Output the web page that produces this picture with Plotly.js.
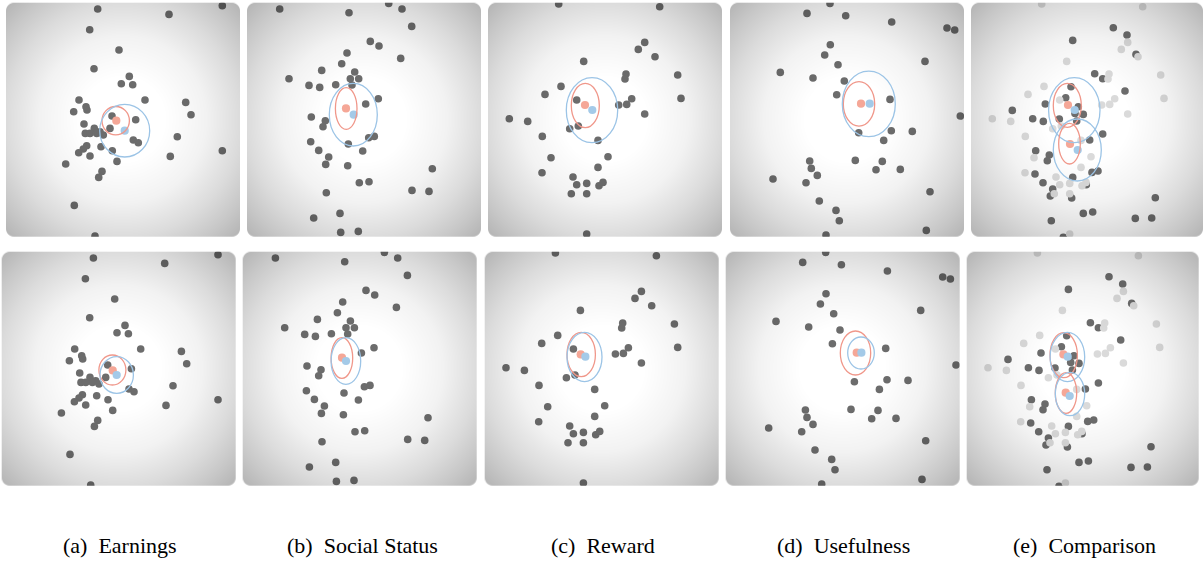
<!DOCTYPE html>
<html><head><meta charset="utf-8">
<script src="https://cdn.plot.ly/plotly-3.0.1.min.js"></script>
<style>html,body{margin:0;padding:0;background:#fff}#chart{width:1203px;height:568px}</style>
</head><body><div id="chart"></div><script>
// ---- data (panel pixel units, x to the right, y downward) ----
const earningsX = [91.7,163,216.3,83.7,113,88,123.3,115.3,126.7,73,139,179.7,80,67.7,81,185,106,129.7,78,104,88.3,94,79.3,84,90.7,97.3,171.3,127.3,132.3,80.7,95,77.3,106.3,72.7,84,216.3,164.3,111,59.7,96,92.7,68.3,89];
const earningsY = [6.3,11.7,3,27,47.3,66,73.7,81,82,97.3,97.3,99.7,104,109,107.3,112,113.3,117,121.3,125.7,125.7,129,130.7,130.7,130.7,132.3,134,137.3,140,143,144,146.3,148,150,153.3,148,153.7,158.7,161.3,168.7,174.7,202.7,233.3];
const socialX = [32.7,102,141.7,155,164.7,123.3,132,100,153.7,94.7,74.7,107.7,42,103.3,111.7,62,72.7,88.7,105,131.3,118.7,64.3,78.3,76,63.7,101.3,121.7,127.3,71.7,115.7,81.7,78.7,100.7,185.3,112.3,122,79.3,165,182,93,66.7,93.7,111.3];
const socialY = [6.3,10,0.7,6.3,23.7,38.7,43.3,50.3,55.7,61,67.7,69.3,76,76,76,82.7,84.7,82,82.3,96,101.3,114.3,118,124,139,141.3,135,133.7,147.7,148.3,154.3,161.7,163,166,180,179,190,187.7,188.7,210.7,215.3,229.7,228.7];
const rewardX = [70.7,171.7,156.7,150.3,167,95.7,138,137,189.7,73,57,193,88.7,143.7,138.7,130.7,156.7,21.3,39.7,90.3,81.7,54.3,110,120,63,110,54,85,88.7,98.7,111,115,83.3,98.7,98.7];
const rewardY = [1.3,4,39.7,46.7,54,58.7,71.3,76.3,72.3,83.7,91.7,95.7,97.3,96,101.7,102.3,111.3,116,118.7,123.3,126,133.7,137.7,154,155,164.7,170,174.3,182,180.7,183,179.7,191,191,231.3];
const usefulX = [100,77,115.7,161.7,217,224.7,100.3,94.7,108,195,50.3,83,114.3,106.7,160,230.3,128.7,161.3,182.3,153.7,79.7,81.3,125.3,152.3,146,170.3,87.3,43,76,200,89.3,106,109.3,96,196.3];
const usefulY = [0.7,10.7,13,19.3,25.3,27.3,42,52.3,62,58.7,69.7,75.3,78.3,92,96.7,113.3,130,128,128.7,137.7,158.3,165.7,157.7,158.7,167,166.7,172.7,176.3,180,189,198.3,207.7,218,232.3,227.7];
const compareX = [142.3,156,101.7,165,123.7,131.7,154,100,94.7,41.3,74.3,61.7,72.3,88.3,107.3,112.3,104,105.7,131.7,118.7,64.7,78.3,76.3,64,101.7,121,127,72,81.7,79.3,100.7,115.3,184.3,112.3,121.7,80.3,164.3,180.7,92.3];
const compareY = [25,32.3,37.7,51.7,71,76,88.3,84,95,107.7,101.3,116,118.7,116.3,104,111.7,110.7,118.3,131.3,137.3,148,152.3,158,171.3,174.7,169.7,168.3,180,186.3,193.3,195.3,182,195,210.7,209.3,218,215.7,215.3,234.7];

// ellipses & means: entries = (a, b, c, d, e-upper, e-lower)
const topRedCX = [109.7,99.2,97.3,129,96.3,98.5];
const topRedCY = [118,105.8,102.8,101.2,102.7,141];
const topRedRX = [13.7,10.8,14,15.7,14,10.8];
const topRedRY = [14.2,20.8,22.2,22.2,22,20.3];
const topBlueCX = [118.7,106.3,104,138.8,103.3,106.3];
const topBlueCY = [128,112,107.5,101.2,107.5,147.3];
const topBlueRX = [25,24,25.7,26.5,25.7,24];
const topBlueRY = [26.3,31.3,32.5,32.8,32.5,31];
const topRedMeanX = [110.3,99,97,131,97,99];
const topRedMeanY = [118,105.7,102.3,101,102.3,141.3];
const topBlueMeanX = [118.7,106.7,104.3,139.7,103.7,106.7];
const topBlueMeanY = [128,112,107.3,101,107.3,147.3];

const botRedCX = [110.7,99.2,96.5,129.8,97,99.3];
const botRedCY = [118.3,106.3,102.8,101.3,103.5,141.3];
const botRedRX = [13.5,10.8,14.2,15.2,13.7,10.7];
const botRedRY = [15,20.3,22.2,22,22.5,20.3];
const botBlueCX = [115,103.2,99.8,135.3,100.7,103.3];
const botBlueCY = [123.3,109.3,105.3,101.3,105.3,142.3];
const botBlueRX = [16.7,14.8,17.5,13.3,17.3,14.7];
const botBlueRY = [18.3,23.3,24.7,16,24.7,21.7];
const botRedMeanX = [111,99.3,96,131,96.7,99];
const botRedMeanY = [118.7,106,102.7,101,102.7,141];
const botBlueMeanX = [115,103.3,100.7,135.7,101,103];
const botBlueMeanY = [123.3,109.3,105,101,105,144.3];

const captions = ["(a)\u00a0\u00a0Earnings","(b)\u00a0\u00a0Social Status","(c)\u00a0\u00a0Reward","(d)\u00a0\u00a0Usefulness","(e)\u00a0\u00a0Comparison"];

// ---- layout geometry ----
const W = 1203, H = 568;
const colLeft = [[6,247,488,730,971],[1.7,242.7,484.7,725.7,966.7]];
const colW = [234,234,234,234,232];
const panelH = 234;
const rowTop = [2.7,251.7];
const captionX = [120,362,603,843,1084];
const captionY = 545;

const DARK = '#6c6c6c', LIGHT = '#dadada';
const RED_LINE = '#f0978a', BLUE_LINE = '#9cc4e6';
const RED_DOT = '#f5a797', BLUE_DOT = '#a4cae8';

function vignette(w, h) {
  const s = 2, cv = document.createElement('canvas');
  cv.width = Math.round(w * s); cv.height = Math.round(h * s);
  const g = cv.getContext('2d'); g.scale(s, s);
  const r = 8;
  g.beginPath();
  g.moveTo(r, 0); g.lineTo(w - r, 0); g.arcTo(w, 0, w, r, r);
  g.lineTo(w, h - r); g.arcTo(w, h, w - r, h, r);
  g.lineTo(r, h); g.arcTo(0, h, 0, h - r, r);
  g.lineTo(0, r); g.arcTo(0, 0, r, 0, r); g.closePath();
  g.clip();
  const cx = w / 2, cy = h / 2, R = Math.hypot(cx, cy);
  const grd = g.createRadialGradient(cx, cy, 0, cx, cy, R);
  grd.addColorStop(0, 'rgba(0,0,0,0)');
  grd.addColorStop(0.25, 'rgba(0,0,0,0)');
  grd.addColorStop(0.5, 'rgba(0,0,0,0.05)');
  grd.addColorStop(0.71, 'rgba(0,0,0,0.14)');
  grd.addColorStop(0.86, 'rgba(0,0,0,0.22)');
  grd.addColorStop(1, 'rgba(0,0,0,0.30)');
  g.fillStyle = grd; g.fillRect(0, 0, w, h);
  return cv.toDataURL('image/png');
}

const layout = {
  width: W, height: H, margin: {l:0, r:0, t:0, b:0},
  paper_bgcolor: '#ffffff', plot_bgcolor: 'rgba(0,0,0,0)',
  showlegend: false, shapes: [], images: [], annotations: []
};
const traces = [];
const pointSets = [[earningsX, earningsY],[socialX, socialY],[rewardX, rewardY],[usefulX, usefulY],[compareX, compareY]];
const ell = [
  {rcx:topRedCX,rcy:topRedCY,rrx:topRedRX,rry:topRedRY,bcx:topBlueCX,bcy:topBlueCY,brx:topBlueRX,bry:topBlueRY,rmx:topRedMeanX,rmy:topRedMeanY,bmx:topBlueMeanX,bmy:topBlueMeanY},
  {rcx:botRedCX,rcy:botRedCY,rrx:botRedRX,rry:botRedRY,bcx:botBlueCX,bcy:botBlueCY,brx:botBlueRX,bry:botBlueRY,rmx:botRedMeanX,rmy:botRedMeanY,bmx:botBlueMeanX,bmy:botBlueMeanY}
];
const ellCol = [0,1,2,3,4,4];
const vigs = colW.map(w => vignette(w, panelH));

for (let r = 0; r < 2; r++) {
  for (let c = 0; c < 5; c++) {
    const idx = r * 5 + c + 1, sfx = idx === 1 ? '' : String(idx);
    const left = colLeft[r][c], top = rowTop[r], w = colW[c];
    layout['xaxis' + sfx] = {domain:[left / W, (left + w) / W], range:[0, w], visible:false, fixedrange:true, anchor:'y' + sfx};
    layout['yaxis' + sfx] = {domain:[1 - (top + panelH) / H, 1 - top / H], range:[panelH, 0], visible:false, fixedrange:true, anchor:'x' + sfx};
    const xa = 'x' + sfx, ya = 'y' + sfx;
    const ps = pointSets[c];
    traces.push({type:'scatter', mode:'markers', x:ps[0], y:ps[1], xaxis:xa, yaxis:ya, hoverinfo:'skip',
      marker:{size:7.6, color:DARK, line:{width:0}}});
    if (c === 4) {
      traces.push({type:'scatter', mode:'markers', x:rewardX, y:rewardY, xaxis:xa, yaxis:ya, hoverinfo:'skip',
        marker:{size:7.6, color:LIGHT, line:{width:0}}});
    }
    layout.images.push({source: vigs[c], xref: xa + ' domain', yref: ya + ' domain', x:0, y:1, sizex:1, sizey:1,
      xanchor:'left', yanchor:'top', sizing:'stretch', layer:'above'});
  }
  const E = ell[r];
  for (let k = 0; k < 6; k++) {
    const c = ellCol[k], idx = r * 5 + c + 1, sfx = idx === 1 ? '' : String(idx);
    const xa = 'x' + sfx, ya = 'y' + sfx;
    layout.shapes.push({type:'circle', xref:xa, yref:ya, x0:E.rcx[k]-E.rrx[k], x1:E.rcx[k]+E.rrx[k], y0:E.rcy[k]-E.rry[k], y1:E.rcy[k]+E.rry[k], line:{color:RED_LINE, width:1.3}, layer:'above'});
    layout.shapes.push({type:'circle', xref:xa, yref:ya, x0:E.bcx[k]-E.brx[k], x1:E.bcx[k]+E.brx[k], y0:E.bcy[k]-E.bry[k], y1:E.bcy[k]+E.bry[k], line:{color:BLUE_LINE, width:1.3}, layer:'above'});
  }
}
// means drawn last
for (let r = 0; r < 2; r++) {
  const E = ell[r];
  for (let k = 0; k < 6; k++) {
    const c = ellCol[k], idx = r * 5 + c + 1, sfx = idx === 1 ? '' : String(idx);
    traces.push({type:'scatter', mode:'markers', x:[E.rmx[k]], y:[E.rmy[k]], xaxis:'x'+sfx, yaxis:'y'+sfx, hoverinfo:'skip', marker:{size:8.2, color:RED_DOT}});
    traces.push({type:'scatter', mode:'markers', x:[E.bmx[k]], y:[E.bmy[k]], xaxis:'x'+sfx, yaxis:'y'+sfx, hoverinfo:'skip', marker:{size:8.2, color:BLUE_DOT}});
  }
}
captions.forEach((t, i) => {
  layout.annotations.push({text:t, xref:'paper', yref:'paper', x:captionX[i] / W, y:1 - captionY / H,
    xanchor:'center', yanchor:'middle', showarrow:false, font:{family:'"Liberation Serif", "Times New Roman", serif', size:22, color:'#000'}});
});
Plotly.newPlot('chart', traces, layout, {displayModeBar:false, staticPlot:true});
</script></body></html>
